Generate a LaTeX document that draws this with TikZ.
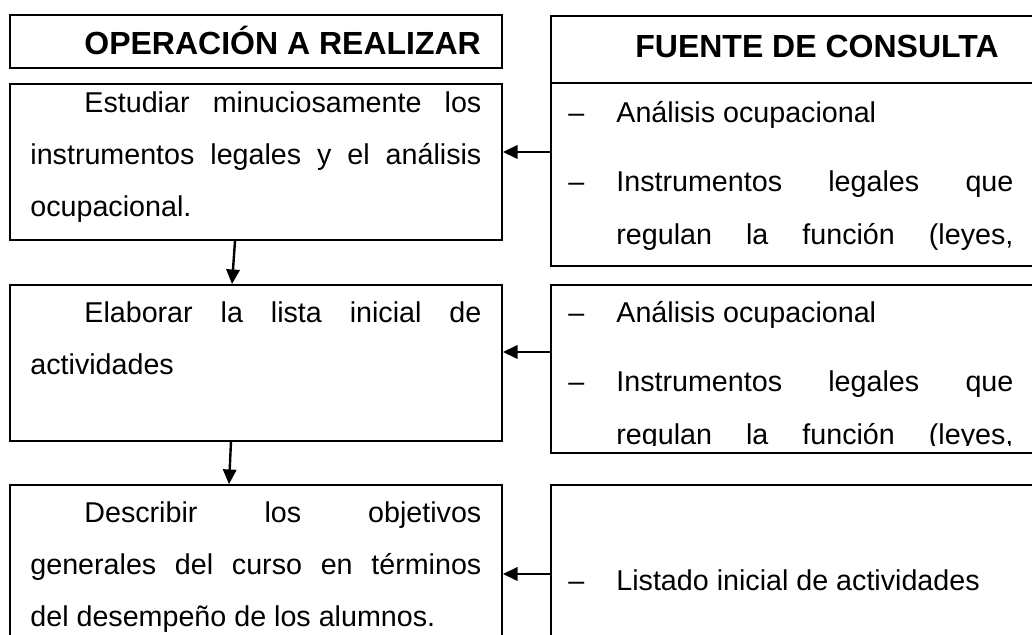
\documentclass[tikz,border=0pt]{standalone}
\usepackage{fontspec}
\setmainfont{Liberation Sans}
\usetikzlibrary{calc}
\usetikzlibrary{arrows.meta}
\tikzstyle{box} = [draw, rectangle, line width=1.3pt, inner sep=0pt]
\tikzstyle{opbox} = [box, minimum width=369pt]
\tikzstyle{srcbox} = [box, minimum width=405pt]
\tikzstyle{headtext} = [inner sep=0pt, font=\bfseries\fontsize{24}{28}\selectfont]
\tikzstyle{optext} = [inner sep=0pt, anchor=base west, text width=338.25pt,
                      align=justify, font=\fontsize{21.5}{39}\selectfont]
\tikzstyle{srctext} = [optext, text width=333.75pt, font=\fontsize{21.5}{40}\selectfont]
\tikzstyle{link} = [->, line width=1.8pt]
\newcommand{\srcitem}{\hangindent=36pt\hangafter=1\noindent\makebox[36pt][l]{–}}

\begin{document}
\begin{tikzpicture}[x=0.75pt, y=0.75pt, >={Triangle[length=11pt,width=10pt]}]

% background
\clip (0,0) rectangle (1032,635);
\fill[white] (0,0) rectangle (1032,635);

% add nodes
\path (256,593.5) node [opbox, minimum height=39.75pt] (head) {}
  -- ++(0,-120.5) node [opbox, minimum height=117pt] (op1) {}
  -- ++(0,-201) node [opbox, minimum height=117pt] (op2) {}
  -- ++(0,-229.5) node [opbox, minimum height=161.25pt] (op3) {};

\path (821,585.5) node [srcbox, minimum height=50.25pt] (srchead) {}
  -- ++(0,-125) node [srcbox, minimum height=137.25pt] (src1) {}
  -- ++(0,-194.5) node [srcbox, minimum height=126pt] (src2) {}
  -- ++(0,-223.5) node [srcbox, minimum height=161.25pt] (src3) {};

% texts
\node [headtext, anchor=base west] (headop) at ($(head.north west)+(75,-40)$)
  {OPERACIÓN A REALIZAR};
\node [headtext, anchor=base] (headsrc) at ($(srchead.center)+(-4,-8)$)
  {FUENTE DE CONSULTA};

\node [optext] (t1) at ($(op1.north west)+(21,-29)$)
  {\hspace*{40.5pt}Estudiar minuciosamente los\linebreak
   instrumentos legales y el análisis\linebreak ocupacional.};
\node [optext] (t2) at ($(op2.north west)+(21,-38)$)
  {\hspace*{40.5pt}Elaborar la lista inicial de\linebreak actividades};
\node [optext] (t3) at ($(op3.north west)+(21,-38)$)
  {\hspace*{40.5pt}Describir los objetivos\linebreak
   generales del curso en términos\linebreak del desempeño de los alumnos.};

\node [srctext] (s1) at ($(src1.north west)+(18,-40)$)
  {\srcitem Análisis ocupacional\par\vspace{12pt}
   \srcitem Instrumentos legales que\linebreak
   regulan la función (leyes,{\parfillskip=0pt\par}};
\begin{scope}
  \clip ($(src2.south west)+(0,8)$) rectangle (src2.north east);
  \node [srctext] (s2) at ($(src2.north west)+(18,-38)$)
    {\srcitem Análisis ocupacional\par\vspace{12pt}
     \srcitem Instrumentos legales que\linebreak
     regulan la función (leyes,{\parfillskip=0pt\par}};
\end{scope}
\node [srctext] (s3) at ($(src3.north west)+(18,-106)$)
  {\srcitem Listado inicial de actividades};

% add connections
\draw[link] ($(src1.west)+(0,22.5)$) -- ($(op1.east)+(0,10)$);
\draw[link] ($(src2.west)+(0,17)$) -- ($(op2.east)+(0,11)$);
\draw[link] ($(src3.west)+(0,18.5)$) -- ($(op3.east)+(0,18.5)$);
\draw[link] ($(op1.south)+(-21,0)$) -- ($(op2.north)+(-24,0)$);
\draw[link] ($(op2.south)+(-25,0)$) -- ($(op3.north)+(-27,0)$);

\end{tikzpicture}
\end{document}
